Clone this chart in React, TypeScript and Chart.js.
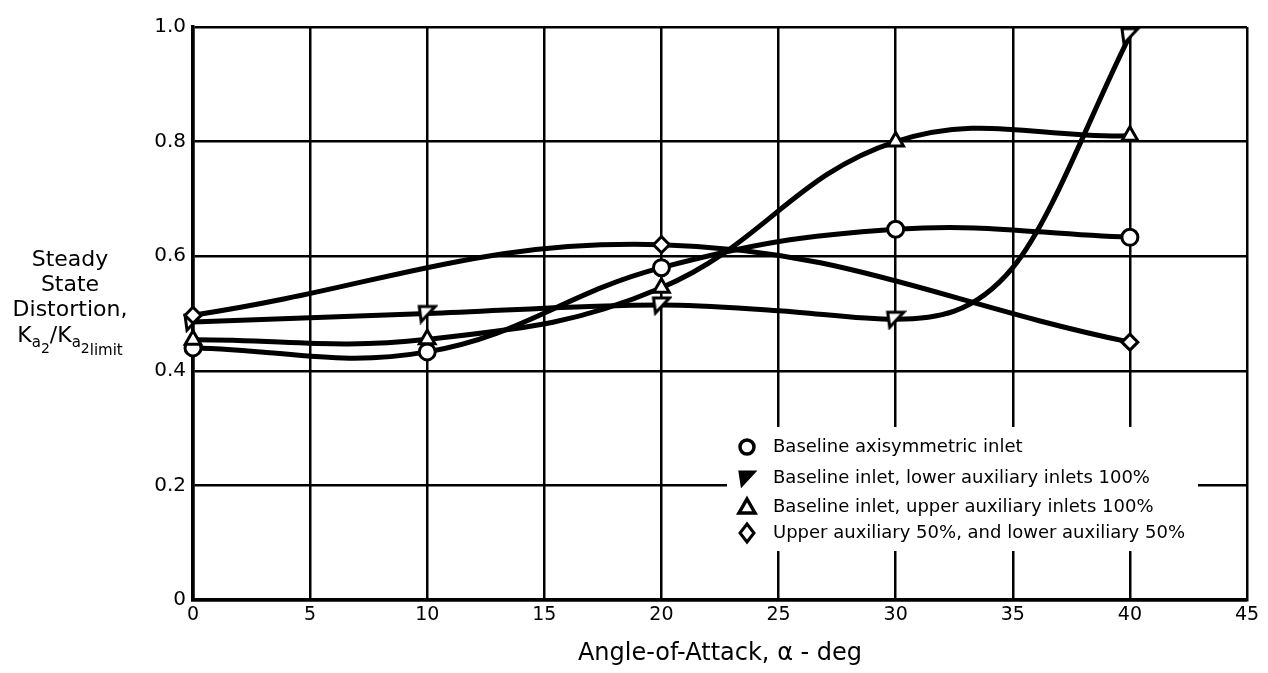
import React, { useEffect, useRef } from "react";
import { Chart, registerables } from "chart.js";

Chart.register(...registerables);

// ---- data ----
const anglesAll = [0, 10, 20, 30, 40];
const anglesDiamond = [0, 20, 40];
const baselineAxisym = [0.44, 0.433, 0.58, 0.647, 0.633];
const upperAux100 = [0.454, 0.455, 0.545, 0.8, 0.81];
const upperLower50 = [0.497, 0.62, 0.45];
// lower auxiliary curve: measured points plus curve-only readings at 25 and 35
const anglesLowerCurve = [0, 10, 20, 25, 30, 35, 40];
const lowerAux100 = [0.485, 0.5, 0.515, 0.505, 0.49, 0.58, 0.985];

const xTickStep = 5;
const yTickStep = 0.2;
const xMax = 45;
const yMax = 1.0;

const legendLabels = [
  "Baseline axisymmetric inlet",
  "Baseline inlet, lower auxiliary inlets 100%",
  "Baseline inlet, upper auxiliary inlets 100%",
  "Upper auxiliary 50%, and lower auxiliary 50%",
];
const xTitle = "Angle-of-Attack, \u03b1 - deg";
const yTitleLines = ["Steady", "State", "Distortion,"];

const FONT = '"DejaVu Sans", "Liberation Sans", sans-serif';

function toPoints(xs: number[], ys: number[]) {
  return xs.map((x, i) => ({ x, y: ys[i] }));
}

function makeFlag(filled: boolean, size = 22) {
  const c = document.createElement("canvas");
  c.width = size;
  c.height = size;
  const g = c.getContext("2d")!;
  g.lineJoin = "miter";
  g.beginPath();
  g.moveTo(3, 4);
  g.lineTo(size - 3, 4);
  g.lineTo(5, size - 3);
  g.closePath();
  g.fillStyle = filled ? "#000" : "#fff";
  g.fill();
  g.lineWidth = 3;
  g.strokeStyle = "#000";
  g.stroke();
  return c;
}

const legendPlugin = {
  id: "refLegend",
  beforeDatasetsDraw(chart: any) {
    const ctx = chart.ctx as CanvasRenderingContext2D;
    ctx.save();
    ctx.fillStyle = "#fff";
    ctx.fillRect(727, 427, 471, 124);
    const rows = [447, 478, 507, 533];
    const mx = 747;
    ctx.strokeStyle = "#000";
    ctx.lineWidth = 3.5;
    // circle
    ctx.beginPath();
    ctx.arc(mx, rows[0], 7, 0, Math.PI * 2);
    ctx.stroke();
    // flag (filled)
    const flag = makeFlag(true, 20);
    ctx.drawImage(flag, mx - 10, rows[1] - 10);
    // triangle
    ctx.beginPath();
    ctx.moveTo(mx, rows[2] - 8);
    ctx.lineTo(mx + 8, rows[2] + 6);
    ctx.lineTo(mx - 8, rows[2] + 6);
    ctx.closePath();
    ctx.stroke();
    // diamond
    ctx.lineWidth = 3;
    ctx.beginPath();
    ctx.moveTo(mx, rows[3] - 9);
    ctx.lineTo(mx + 7, rows[3]);
    ctx.lineTo(mx, rows[3] + 9);
    ctx.lineTo(mx - 7, rows[3]);
    ctx.closePath();
    ctx.stroke();
    ctx.fillStyle = "#000";
    ctx.font = `18px ${FONT}`;
    ctx.textAlign = "left";
    ctx.textBaseline = "middle";
    legendLabels.forEach((t, i) => ctx.fillText(t, 773, rows[i]));
    ctx.restore();
  },
};

const yTitlePlugin = {
  id: "yTitle",
  afterDraw(chart: any) {
    const ctx = chart.ctx as CanvasRenderingContext2D;
    ctx.save();
    ctx.fillStyle = "#000";
    ctx.textBaseline = "middle";
    ctx.textAlign = "center";
    ctx.font = `22px ${FONT}`;
    const cx = 70;
    const ys = [260, 285, 310];
    yTitleLines.forEach((t, i) => ctx.fillText(t, cx, ys[i]));
    // K_{a_2}/K_{a_2 limit}
    ctx.textAlign = "left";
    ctx.textBaseline = "alphabetic";
    const base = 342;
    const parts: [string, number, number][] = [
      ["K", 22, 0],
      ["a", 15, 5],
      ["2", 14, 11],
      ["/K", 22, 0],
      ["a", 15, 5],
      ["2", 14, 11],
      ["limit", 15, 13],
    ];
    let total = 0;
    parts.forEach(([t, s]) => {
      ctx.font = `${s}px ${FONT}`;
      total += ctx.measureText(t).width;
    });
    let x = cx - total / 2;
    parts.forEach(([t, s, dy]) => {
      ctx.font = `${s}px ${FONT}`;
      ctx.fillText(t, x, base + dy);
      x += ctx.measureText(t).width;
    });
    ctx.restore();
  },
};

export default function App() {
  const ref = useRef<HTMLCanvasElement | null>(null);

  useEffect(() => {
    if (!ref.current) return;
    const flagMarker = makeFlag(false, 22);
    const common = {
      borderColor: "#000",
      borderWidth: 5,
      pointBorderColor: "#000",
      pointBackgroundColor: "#fff",
      pointBorderWidth: 3,
      tension: 0.4,
      fill: false,
      clip: false,
    };
    const chart = new Chart(ref.current, {
      type: "line",
      data: {
        datasets: [
          {
            ...common,
            label: legendLabels[3],
            data: toPoints(anglesDiamond, upperLower50),
            pointStyle: "rectRot",
            pointRadius: 8,
          },
          {
            ...common,
            label: legendLabels[1],
            data: toPoints(anglesLowerCurve, lowerAux100),
            cubicInterpolationMode: "monotone",
            pointStyle: flagMarker as any,
            pointRadius: (c: any) => (anglesAll.includes(anglesLowerCurve[c.dataIndex]) ? 8 : 0),
          },
          {
            ...common,
            label: legendLabels[2],
            data: toPoints(anglesAll, upperAux100),
            pointStyle: "triangle",
            pointRadius: 9,
          },
          {
            ...common,
            label: legendLabels[0],
            data: toPoints(anglesAll, baselineAxisym),
            pointStyle: "circle",
            pointRadius: 8,
          },
        ],
      },
      options: {
        animation: false,
        responsive: false,
        maintainAspectRatio: false,
        layout: { padding: { top: 27, right: 21, left: 0, bottom: 0 } },
        plugins: {
          legend: { display: false },
          tooltip: { enabled: false },
        },
        scales: {
          x: {
            type: "linear",
            min: 0,
            max: xMax,
            ticks: {
              stepSize: xTickStep,
              color: "#000",
              font: { family: FONT, size: 19 },
              padding: 4,
              maxRotation: 0,
            },
            grid: { color: "#000", lineWidth: 2.5, drawTicks: false },
            border: { color: "#000", width: 3.5 },
            title: {
              display: true,
              text: xTitle,
              color: "#000",
              font: { family: FONT, size: 24 },
              padding: { top: 6, bottom: 5 },
            },
            afterFit: (s: any) => {
              s.height = 73;
            },
          },
          y: {
            min: 0,
            max: yMax,
            ticks: {
              stepSize: yTickStep,
              color: "#000",
              font: { family: FONT, size: 20 },
              padding: 7,
              callback: (v: any) => (Number(v) === 0 ? "0" : Number(v).toFixed(1)),
            },
            grid: { color: "#000", lineWidth: 2.5, drawTicks: false },
            border: { color: "#000", width: 3.5 },
            afterFit: (s: any) => {
              s.width = 193;
            },
          },
        },
      } as any,
      plugins: [legendPlugin, yTitlePlugin],
    });
    return () => chart.destroy();
  }, []);

  return (
    <div style={{ position: "absolute", left: 0, top: 0, width: 1268, height: 673, background: "#fff" }}>
      <canvas ref={ref} width={1268} height={673} style={{ width: 1268, height: 673, display: "block" }} />
    </div>
  );
}
